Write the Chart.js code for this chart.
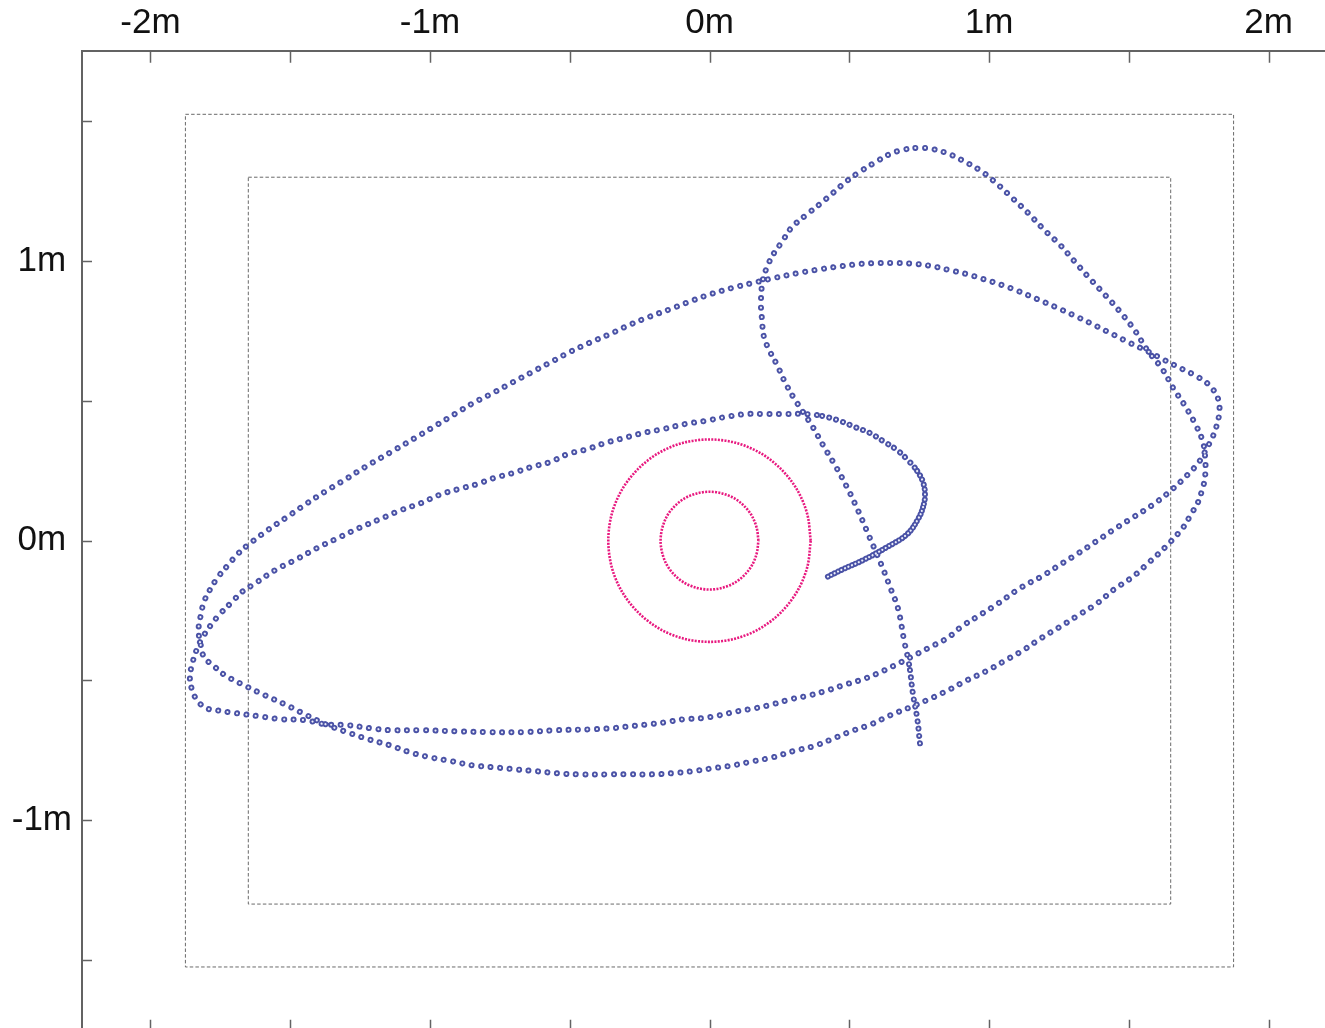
<!DOCTYPE html>
<html>
<head>
<meta charset="utf-8">
<title>Robot path</title>
<script src="https://cdn.jsdelivr.net/npm/chart.js@4/dist/chart.umd.min.js"></script>
<style>
  html, body { margin: 0; padding: 0; background: #fff; overflow: hidden; }
  #c { position: absolute; left: 0; top: 0; display: block; }
</style>
</head>
<body>
<canvas id="c" width="1337" height="1062"></canvas>
<script>
// Axis ticks (metres) and their labels
const xTickValues = [-2, -1.5, -1, -0.5, 0, 0.5, 1, 1.5, 2];
const xTickLabels = ['-2m', '', '-1m', '', '0m', '', '1m', '', '2m'];
const yTickValues = [-1.5, -1, -0.5, 0, 0.5, 1, 1.5];
const yTickLabels = ['', '-1m', '', '0m', '', '1m', ''];

// Working-area boundaries (corners, metres)
const outerBoxX = [-1.875, 1.875, 1.875, -1.875, -1.875];
const outerBoxY = [1.525, 1.525, -1.525, -1.525, 1.525];
const innerBoxX = [-1.65, 1.65, 1.65, -1.65, -1.65];
const innerBoxY = [1.30, 1.30, -1.30, -1.30, 1.30];

// Obstacle rings around the origin (metres)
const ringOuterX = [0.362, 0.350, 0.314, 0.256, 0.181, 0.094, 0, -0.094, -0.181, -0.256, -0.314, -0.350,
                    -0.362, -0.350, -0.314, -0.256, -0.181, -0.094, 0, 0.094, 0.181, 0.256, 0.314, 0.350, 0.362];
const ringOuterY = [0, 0.094, 0.181, 0.256, 0.314, 0.350, 0.362, 0.350, 0.314, 0.256, 0.181, 0.094,
                    0, -0.094, -0.181, -0.256, -0.314, -0.350, -0.362, -0.350, -0.314, -0.256, -0.181, -0.094, 0];
const ringInnerX = [0.175, 0.169, 0.152, 0.124, 0.088, 0.045, 0, -0.045, -0.088, -0.124, -0.152, -0.169,
                    -0.175, -0.169, -0.152, -0.124, -0.088, -0.045, 0, 0.045, 0.088, 0.124, 0.152, 0.169, 0.175];
const ringInnerY = [0, 0.045, 0.088, 0.124, 0.152, 0.169, 0.175, 0.169, 0.152, 0.124, 0.088, 0.045,
                    0, -0.045, -0.088, -0.124, -0.152, -0.169, -0.175, -0.169, -0.152, -0.124, -0.088, -0.045, 0];

// Recorded robot path (metres), in travel order
const pathX = [
  0.753, 0.743, 0.728, 0.714, 0.696, 0.675, 0.646, 0.614, 0.571, 0.531,
  0.492, 0.449, 0.406, 0.370, 0.335, 0.302, 0.270, 0.242, 0.217, 0.195,
  0.188, 0.184, 0.191, 0.209, 0.231, 0.259, 0.292, 0.346, 0.395, 0.442,
  0.492, 0.542, 0.596, 0.646, 0.693, 0.746, 0.796, 0.857, 0.914, 0.972,
  1.029, 1.083, 1.140, 1.194, 1.254, 1.305, 1.362, 1.419, 1.473, 1.523,
  1.566, 1.620, 1.659, 1.702, 1.738, 1.763, 1.773, 1.773, 1.763, 1.748,
  1.723, 1.695, 1.634, 1.573, 1.512, 1.448, 1.387, 1.319, 1.251, 1.186,
  1.122, 1.054, 0.990, 0.922, 0.854, 0.786, 0.718, 0.646, 0.578, 0.506,
  0.438, 0.370, 0.299, 0.227, 0.156, 0.084, 0.013, -0.063, -0.134, -0.206,
  -0.281, -0.356, -0.471, -0.546, -0.617, -0.696, -0.768, -0.846, -0.922, -1.000,
  -1.072, -1.144, -1.222, -1.297, -1.373, -1.448, -1.512, -1.591, -1.666, -1.734,
  -1.773, -1.802, -1.816, -1.820, -1.827, -1.827, -1.820, -1.809, -1.788, -1.759,
  -1.723, -1.688, -1.652, -1.580, -1.512, -1.444, -1.373, -1.301, -1.233, -1.122,
  -1.054, -0.982, -0.911, -0.846, -0.775, -0.703, -0.635, -0.567, -0.499, -0.431,
  -0.356, -0.288, -0.217, -0.138, -0.066, 0.005, 0.081, 0.156, 0.234, 0.317,
  0.403, 0.474, 0.542, 0.607, 0.675, 0.736, 0.796, 0.857, 0.918, 0.979,
  1.047, 1.104, 1.172, 1.237, 1.301, 1.369, 1.433, 1.498, 1.566, 1.627,
  1.691, 1.748, 1.791, 1.820, 1.824, 1.813, 1.798, 1.766, 1.748, 1.713,
  1.648, 1.584, 1.512, 1.444, 1.380, 1.315, 1.251, 1.190, 1.111, 1.029,
  0.961, 0.904, 0.850, 0.789, 0.728, 0.671, 0.610, 0.549, 0.489, 0.424,
  0.360, 0.292, 0.227, 0.166, 0.102, 0.034, -0.027, -0.095, -0.159, -0.220,
  -0.285, -0.349, -0.428, -0.546, -0.668, -0.786, -0.907, -1.025, -1.144, -1.212,
  -1.294, -1.373, -1.448, -1.530, -1.612, -1.695, -1.763, -1.798, -1.831, -1.852,
  -1.859, -1.852, -1.834, -1.813, -1.784, -1.752, -1.709, -1.670, -1.630, -1.555,
  -1.476, -1.405, -1.330, -1.254, -1.179, -1.104, -1.033, -0.968, -0.900, -0.832,
  -0.771, -0.703, -0.639, -0.571, -0.506, -0.438, -0.374, -0.306, -0.238, -0.166,
  -0.088, -0.016, 0.055, 0.134, 0.202, 0.270, 0.342, 0.403, 0.467, 0.521,
  0.574, 0.621, 0.671, 0.710, 0.743, 0.764, 0.771, 0.764, 0.746, 0.707,
  0.635, 0.549, 0.478, 0.413
];
const pathY = [
  -0.725, -0.635, -0.549, -0.442, -0.356, -0.245, -0.166, -0.084, 0.016, 0.109,
  0.191, 0.270, 0.342, 0.406, 0.460, 0.510, 0.567, 0.628, 0.675, 0.728,
  0.789, 0.854, 0.932, 0.986, 1.029, 1.068, 1.118, 1.165, 1.204, 1.244,
  1.287, 1.322, 1.355, 1.383, 1.398, 1.405, 1.401, 1.383, 1.355, 1.322,
  1.276, 1.226, 1.172, 1.115, 1.058, 1.000, 0.936, 0.875, 0.814, 0.750,
  0.682, 0.614, 0.546, 0.481, 0.417, 0.360, 0.302, 0.227, 0.184, 0.138,
  0.095, 0.048, -0.020, -0.077, -0.131, -0.174, -0.224, -0.267, -0.310, -0.349,
  -0.392, -0.431, -0.467, -0.499, -0.535, -0.567, -0.596, -0.625, -0.657, -0.682,
  -0.710, -0.736, -0.753, -0.775, -0.789, -0.804, -0.814, -0.825, -0.832, -0.836,
  -0.836, -0.836, -0.836, -0.832, -0.825, -0.818, -0.811, -0.804, -0.789, -0.775,
  -0.757, -0.732, -0.710, -0.685, -0.657, -0.621, -0.589, -0.553, -0.517, -0.481,
  -0.449, -0.424, -0.399, -0.374, -0.338, -0.302, -0.267, -0.220, -0.177, -0.131,
  -0.088, -0.048, -0.016, 0.038, 0.084, 0.131, 0.177, 0.220, 0.263, 0.327,
  0.367, 0.410, 0.453, 0.492, 0.528, 0.567, 0.603, 0.639, 0.675, 0.707,
  0.739, 0.771, 0.800, 0.829, 0.857, 0.882, 0.904, 0.922, 0.940, 0.957,
  0.972, 0.982, 0.990, 0.993, 0.993, 0.990, 0.982, 0.968, 0.954, 0.936,
  0.914, 0.893, 0.864, 0.836, 0.807, 0.775, 0.743, 0.710, 0.678, 0.646,
  0.614, 0.585, 0.553, 0.506, 0.460, 0.406, 0.367, 0.306, 0.277, 0.238,
  0.177, 0.127, 0.081, 0.038, -0.005, -0.048, -0.088, -0.127, -0.170, -0.227,
  -0.270, -0.306, -0.349, -0.381, -0.413, -0.442, -0.471, -0.496, -0.514, -0.535,
  -0.553, -0.567, -0.585, -0.599, -0.610, -0.625, -0.635, -0.639, -0.650, -0.657,
  -0.664, -0.671, -0.675, -0.678, -0.685, -0.685, -0.682, -0.678, -0.678, -0.671,
  -0.660, -0.657, -0.642, -0.639, -0.628, -0.617, -0.607, -0.600, -0.574, -0.531,
  -0.489, -0.446, -0.388, -0.345, -0.302, -0.263, -0.220, -0.181, -0.156, -0.106,
  -0.066, -0.027, 0.009, 0.045, 0.077, 0.109, 0.134, 0.163, 0.184, 0.202,
  0.224, 0.242, 0.263, 0.281, 0.310, 0.327, 0.349, 0.367, 0.385, 0.399,
  0.417, 0.428, 0.442, 0.453, 0.453, 0.453, 0.453, 0.446, 0.428, 0.406,
  0.385, 0.356, 0.324, 0.288, 0.249, 0.209, 0.163, 0.120, 0.077, 0.023,
  -0.023, -0.070, -0.102, -0.134
];

const zip = (xs, ys) => xs.map((x, i) => ({ x, y: ys[i] }));

// Sample spacing along the path: wider while cruising, tighter while slowing down
function pathDash(ctx) {
  const i = ctx.p0DataIndex;
  if (i < 3) return [0.01, 7.4];
  if (i < 267) return [0.01, 9.5];
  if (i < 274) return [0.01, 7.2];
  if (i < 277) return [0.01, 5];
  return [0.01, 3.8];
}

const PATH_BLUE = '#4a52a6';
const RING_PINK = '#e8197f';
const BOX_GREY = '#6a6a6a';
const AXIS_GREY = '#636363';
const FONT = '"Liberation Sans", Arial, Helvetica, sans-serif';

// Frame geometry: the plot frame starts below the top labels and right of the
// side labels, and runs just past the right and bottom edges of the page.
const FRAME_TOP = 51.4;
const FRAME_LEFT = 82;
const FRAME_BOTTOM_PAD = 3.4;

// Inward tick marks on every side of the frame
const insideTicks = {
  id: 'insideTicks',
  afterDraw(chart) {
    const { ctx, chartArea: a, scales: { x, y } } = chart;
    ctx.save();
    ctx.strokeStyle = AXIS_GREY;
    ctx.lineWidth = 1.5;
    ctx.beginPath();
    x.ticks.forEach(t => {
      const px = Math.round(x.getPixelForValue(t.value)) + 0.5;
      ctx.moveTo(px, a.top); ctx.lineTo(px, a.top + 11.3);
      ctx.moveTo(px, a.bottom); ctx.lineTo(px, a.bottom - 11.3);
    });
    y.ticks.forEach(t => {
      const py = Math.round(y.getPixelForValue(t.value)) + 0.5;
      ctx.moveTo(a.left, py); ctx.lineTo(a.left + 10, py);
      ctx.moveTo(a.right, py); ctx.lineTo(a.right - 10, py);
    });
    ctx.stroke();
    ctx.lineWidth = 2;
    ctx.beginPath();
    ctx.moveTo(a.left, a.bottom); ctx.lineTo(a.right, a.bottom); ctx.lineTo(a.right, a.top);
    ctx.stroke();
    ctx.restore();
  }
};

const lineBase = { pointRadius: 0, pointHoverRadius: 0, fill: false };

new Chart(document.getElementById('c'), {
  type: 'line',
  data: {
    datasets: [
      Object.assign({}, lineBase, {
        label: 'path-core', data: zip(pathX, pathY), order: 1,
        borderColor: '#eceef9', borderWidth: 2.2, tension: 0.4,
        borderCapStyle: 'round', borderDash: [0.01, 9.5],
        segment: { borderDash: pathDash }
      }),
      Object.assign({}, lineBase, {
        label: 'path', data: zip(pathX, pathY), order: 2,
        borderColor: PATH_BLUE, borderWidth: 6, tension: 0.4,
        borderCapStyle: 'round', borderDash: [0.01, 9.5],
        segment: { borderDash: pathDash }
      }),
      Object.assign({}, lineBase, {
        label: 'ring-outer', data: zip(ringOuterX, ringOuterY), order: 3,
        borderColor: RING_PINK, borderWidth: 2.6, tension: 0.33,
        borderDash: [2, 1.3]
      }),
      Object.assign({}, lineBase, {
        label: 'ring-inner', data: zip(ringInnerX, ringInnerY), order: 3,
        borderColor: RING_PINK, borderWidth: 2.6, tension: 0.33,
        borderDash: [2, 1.3]
      }),
      Object.assign({}, lineBase, {
        label: 'box-outer', data: zip(outerBoxX, outerBoxY), order: 4,
        borderColor: BOX_GREY, borderWidth: 1, tension: 0,
        borderDash: [3.5, 2.2]
      }),
      Object.assign({}, lineBase, {
        label: 'box-inner', data: zip(innerBoxX, innerBoxY), order: 4,
        borderColor: BOX_GREY, borderWidth: 1, tension: 0,
        borderDash: [3.5, 2.2]
      })
    ]
  },
  options: {
    responsive: false,
    animation: false,
    devicePixelRatio: 1,
    events: [],
    layout: { padding: { left: 0, top: 0, right: 0, bottom: FRAME_BOTTOM_PAD } },
    plugins: { legend: { display: false }, tooltip: { enabled: false } },
    scales: {
      x: {
        type: 'linear', position: 'top', min: -2.245, max: 2.245,
        afterBuildTicks: s => { s.ticks = xTickValues.map(v => ({ value: v })); },
        afterFit: s => { s.height = FRAME_TOP; },
        ticks: {
          callback: (v, i) => xTickLabels[i],
          font: { family: FONT, size: 35 }, color: '#111',
          padding: 7.3, maxRotation: 0, autoSkip: false
        },
        grid: { drawOnChartArea: false, drawTicks: false },
        border: { display: true, color: AXIS_GREY, width: 2 }
      },
      y: {
        type: 'linear', position: 'left', min: -1.754, max: 1.75,
        afterBuildTicks: s => { s.ticks = yTickValues.map(v => ({ value: v })); },
        afterFit: s => { s.width = FRAME_LEFT; },
        ticks: {
          callback: (v, i) => yTickLabels[i],
          font: { family: FONT, size: 35 }, color: '#111',
          padding: 10, crossAlign: 'center', autoSkip: false
        },
        grid: { drawOnChartArea: false, drawTicks: false },
        border: { display: true, color: AXIS_GREY, width: 2 }
      }
    }
  },
  plugins: [insideTicks]
});
</script>
</body>
</html>
